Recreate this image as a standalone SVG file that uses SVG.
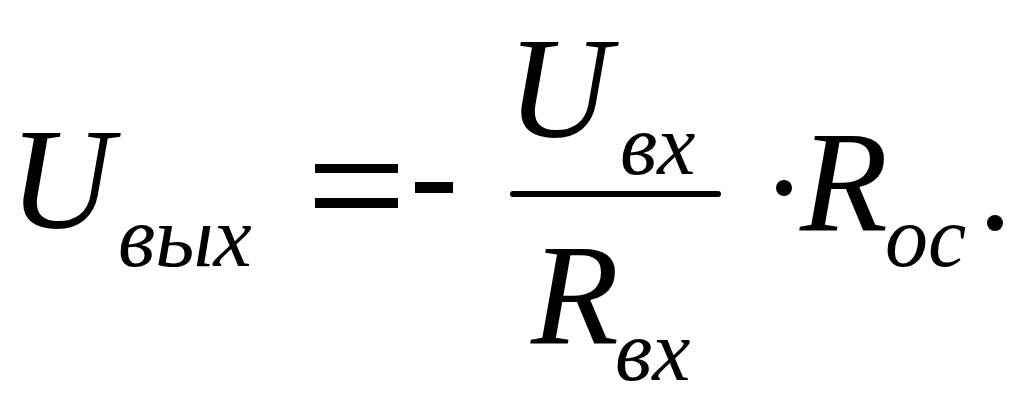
<svg xmlns="http://www.w3.org/2000/svg" width="1024" height="410" viewBox="0 0 1024 410">
<style>
.m{font-family:"Liberation Serif","Times New Roman",serif;font-style:italic;fill:#000}
.b{font-size:144px}
.s{font-size:86px}
</style>
<rect width="1024" height="410" fill="#fff"/>
<g id="lhs">
<text class="m b" x="9" y="228">U</text>
<text class="m s" x="118" y="266">вых</text>
</g>
<g id="ops">
<rect x="315" y="164" width="83" height="9"/>
<rect x="315" y="198" width="83" height="10"/>
<rect x="415" y="182" width="38" height="11"/>
</g>
<g id="fraction">
<text class="m b" x="507" y="137">U</text>
<text class="m s" x="620" y="174">вх</text>
<line x1="513" y1="194" x2="718" y2="194" stroke="#000" stroke-width="6" stroke-linecap="round"/>
<text class="m b" x="531" y="343">R</text>
<text class="m s" x="615" y="380">вх</text>
</g>
<g id="rhs">
<circle cx="784" cy="188" r="8"/>
<text class="m b" x="800" y="230">R</text>
<text class="m s" x="885" y="266">ос</text>
<circle cx="995" cy="223" r="8"/>
</g>
</svg>
